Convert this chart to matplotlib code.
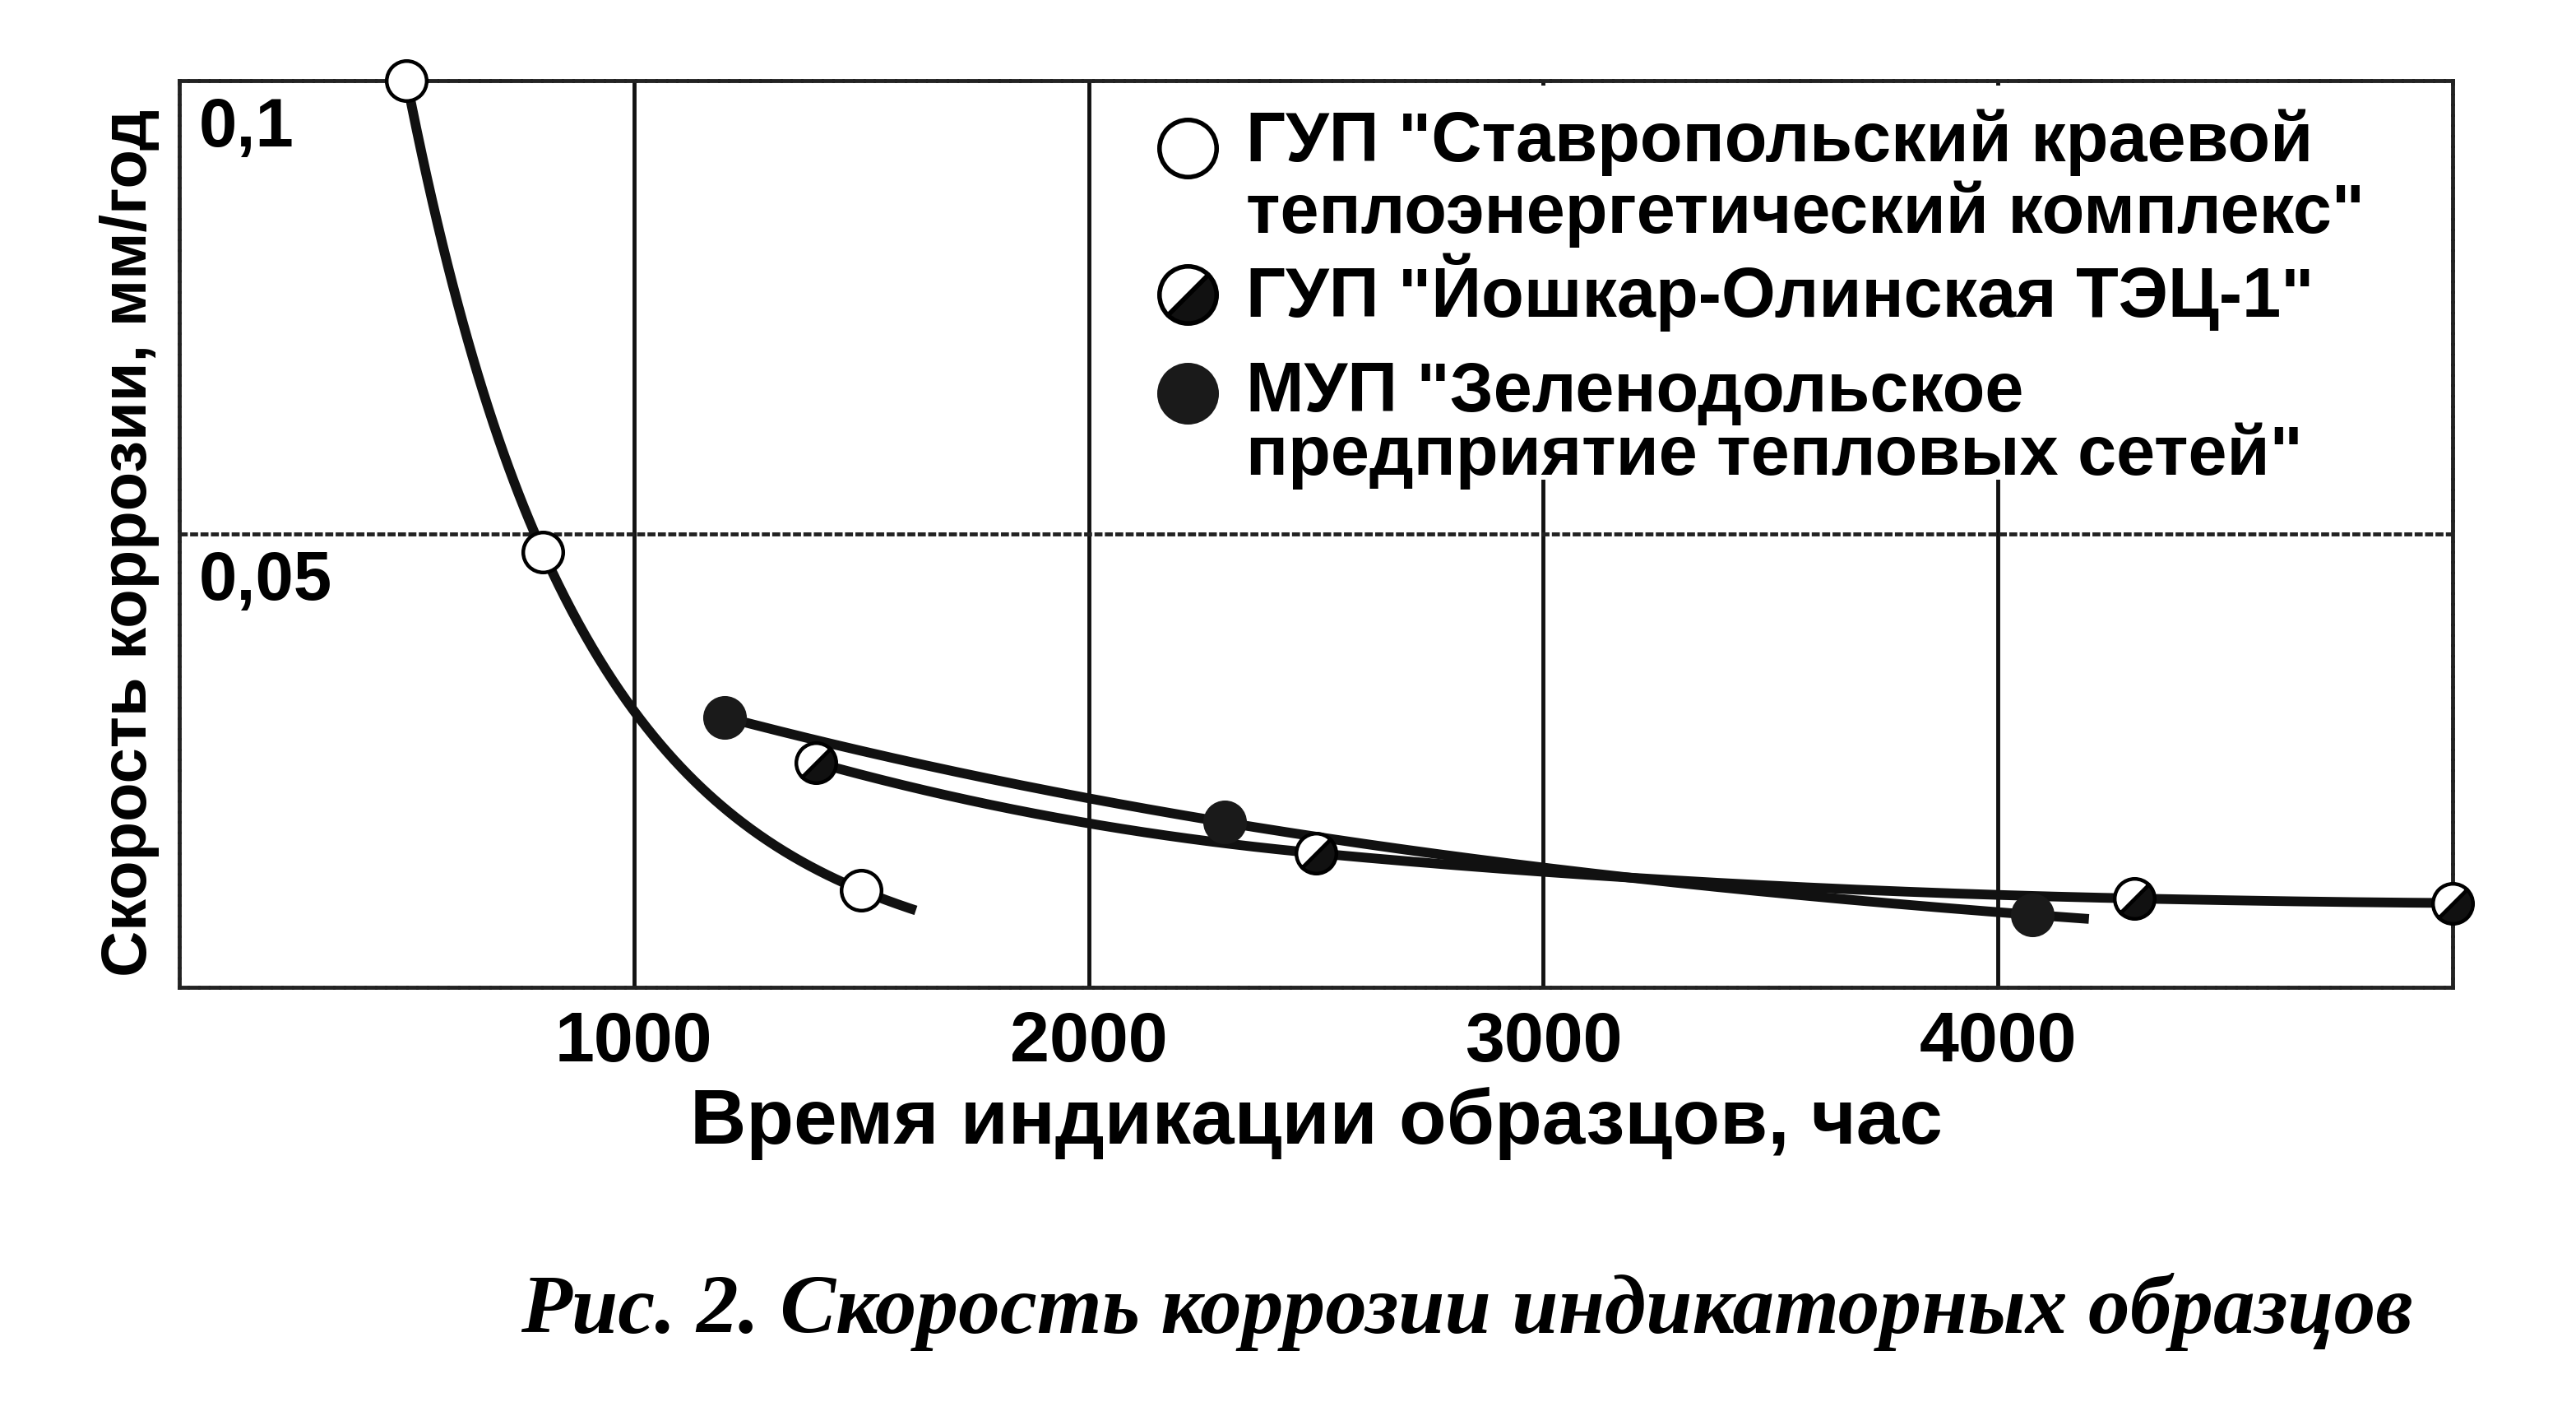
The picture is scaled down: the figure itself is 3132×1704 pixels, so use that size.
import numpy as np
import matplotlib.pyplot as plt
from matplotlib.markers import MarkerStyle
from matplotlib.transforms import Affine2D
from matplotlib.patches import Rectangle

plt.rcParams['font.family'] = ['Liberation Sans', 'DejaVu Sans']
plt.rcParams['font.weight'] = 'bold'

# data (hours, mm/year)
x_stav = [500, 800, 1500]
y_stav = [0.100, 0.048, 0.0107]
end_stav = 1620

x_yosh = [1400, 2500, 4300, 5000]
y_yosh = [0.0248, 0.0148, 0.0098, 0.0093]
end_yosh = 5000

x_zel = [1200, 2300, 4075]
y_zel = [0.0298, 0.0182, 0.0080]
end_zel = 4200

labels = [
    ['ГУП "Ставропольский краевой', 'теплоэнергетический комплекс"'],
    ['ГУП "Йошкар-Олинская ТЭЦ-1"'],
    ['МУП "Зеленодольское', 'предприятие тепловых сетей"'],
]
xticks = [1000, 2000, 3000, 4000]
ytick_vals = [0.1, 0.05]
ytick_labels = ['0,1', '0,05']


def pchip(xs, ys, xq):
    # monotone cubic through the points, linear beyond the last one
    xs = np.asarray(xs, float)
    ys = np.asarray(ys, float)
    n = len(xs)
    h = np.diff(xs)
    dl = np.diff(ys) / h
    d = np.zeros(n)
    for k in range(1, n - 1):
        if dl[k - 1] * dl[k] > 0:
            w1 = 2 * h[k] + h[k - 1]
            w2 = h[k] + 2 * h[k - 1]
            d[k] = (w1 + w2) / (w1 / dl[k - 1] + w2 / dl[k])
    d[0] = ((2 * h[0] + h[1]) * dl[0] - h[0] * dl[1]) / (h[0] + h[1]) if n > 2 else dl[0]
    if np.sign(d[0]) != np.sign(dl[0]):
        d[0] = 0
    d[-1] = ((2 * h[-1] + h[-2]) * dl[-1] - h[-1] * dl[-2]) / (h[-1] + h[-2]) if n > 2 else dl[-1]
    if np.sign(d[-1]) != np.sign(dl[-1]):
        d[-1] = 0
    out = np.empty_like(xq)
    for i, x in enumerate(xq):
        if x >= xs[-1]:
            out[i] = ys[-1] + d[-1] * (x - xs[-1])
            continue
        k = min(np.searchsorted(xs, x, side='right') - 1, n - 2)
        t = (x - xs[k]) / h[k]
        h00 = 2 * t**3 - 3 * t**2 + 1
        h10 = t**3 - 2 * t**2 + t
        h01 = -2 * t**3 + 3 * t**2
        h11 = t**3 - t**2
        out[i] = h00 * ys[k] + h10 * h[k] * d[k] + h01 * ys[k + 1] + h11 * h[k] * d[k + 1]
    return out


def curve(xs, ys, xend):
    xq = np.linspace(xs[0], xend, 300)
    return xq, np.exp(pchip(xs, np.log(ys), xq))


fig = plt.figure(figsize=(31.32, 17.04), dpi=100)
ax = fig.add_axes([218 / 3132, 1 - 1200 / 1704, 2764 / 3132, 1102 / 1704])

half = MarkerStyle('o', fillstyle='bottom', transform=Affine2D().rotate_deg(45))
styles = [
    dict(marker='o', markerfacecolor='white', markeredgecolor='black'),
    dict(marker=half, markerfacecolor='#111111', markerfacecoloralt='white', markeredgecolor='black'),
    dict(marker='o', markerfacecolor='#1a1a1a', markeredgecolor='#1a1a1a'),
]
series = [(x_stav, y_stav, end_stav), (x_yosh, y_yosh, end_yosh), (x_zel, y_zel, end_zel)]

for (xs, ys, xe), st in zip(series, styles):
    cx, cy = curve(xs, ys, xe)
    ax.plot(cx, cy, color='#111111', lw=8.5, solid_capstyle='butt', zorder=3)
    ax.plot(xs, ys, ls='none', markersize=35, markeredgewidth=3.2, zorder=4, clip_on=False, **st)

ax.set_xlim(0, 5000)
ax.set_ylim(0, 0.1)
ax.set_xticks(xticks)
ax.set_xticklabels([str(v) for v in xticks])
ax.set_yticks([0.05])
ax.set_yticklabels([])
ax.tick_params(axis='x', length=0, pad=20, labelsize=62)
ax.tick_params(axis='y', length=0)
ax.grid(axis='x', color='#111111', lw=3.5)
ax.grid(axis='y', color='#222222', lw=3.5, ls=(0, (2, 0.6)))
for sp in ax.spines.values():
    sp.set_linewidth(3.5)
    sp.set_color('#222222')
    sp.set_linestyle((0, (2, 0.6)))

# white area behind the legend hides the upper part of the 3000 and 4000 grid lines
ax.add_patch(Rectangle((0.425, 0.56), 0.57, 0.435, transform=ax.transAxes,
                       facecolor='white', edgecolor='none', zorder=2))

for v, t in zip(ytick_vals, ytick_labels):
    ax.annotate(t, xy=(0, v), xycoords=('axes fraction', 'data'), xytext=(24, -80),
                textcoords='offset pixels', va='baseline', ha='left', fontsize=60,
                fontweight='bold')

ax.set_xlabel('Время индикации образцов, час', fontsize=68, fontweight='bold')
ax.xaxis.label.set_va('baseline')
ax.xaxis.set_label_coords(0.5, (1200 - 1390) / 1102)
ax.set_ylabel('Скорость коррозии, мм/год', fontsize=56, fontweight='bold')
ax.yaxis.label.set_va('baseline')
ax.yaxis.set_label_coords((178 - 218) / 2764, 0.49)

# legend drawn by hand so that markers sit on the first line of each label
marker_y = [0.9256, 0.764, 0.655]
line_y = [[0.911, 0.832], [0.7396], [0.635, 0.5653]]
for st, my, lab, ly in zip(styles, marker_y, labels, line_y):
    ax.plot([0.4436], [my], transform=ax.transAxes, ls='none', markersize=50,
            markeredgewidth=4, clip_on=False, zorder=5, **st)
    for txt, yy in zip(lab, ly):
        ax.text(0.4693, yy, txt, transform=ax.transAxes, fontsize=61, fontweight='bold',
                va='baseline', ha='left', zorder=5)

fig.text(0.5693, 1 - 1620 / 1704, 'Рис. 2. Скорость коррозии индикаторных образцов',
         family=['Liberation Serif', 'DejaVu Serif'], style='italic', fontweight='bold',
         fontsize=73, ha='center', va='baseline')

fig.savefig('out.png', dpi=100, facecolor='white')
